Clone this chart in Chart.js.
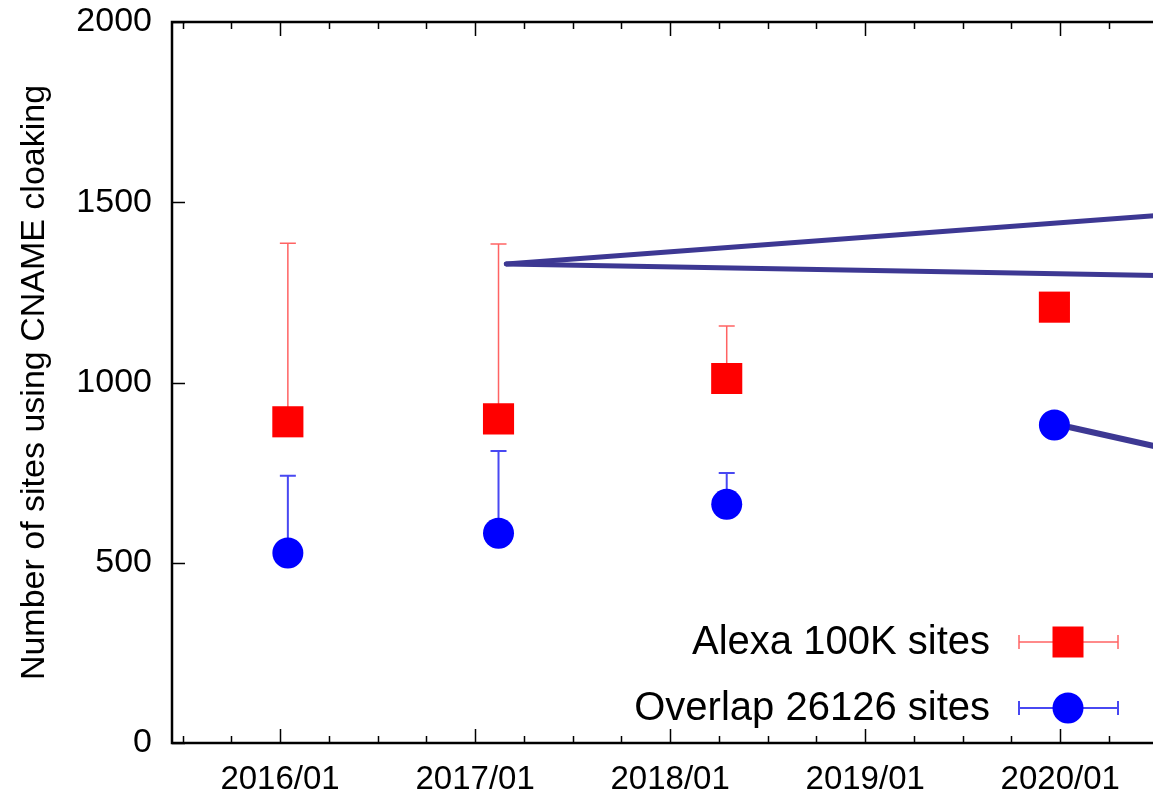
<!DOCTYPE html>
<html>
<head>
<meta charset="utf-8">
<script src="https://cdn.jsdelivr.net/npm/chart.js@4.4.0/dist/chart.umd.min.js"></script>
<style>
  html, body { margin: 0; padding: 0; background: #fff; overflow: hidden; }
  #wrap { width: 1250px; height: 796px; }
</style>
</head>
<body>
<div id="wrap"><canvas id="myChart" width="1250" height="796"></canvas></div>
<script>
// measurement dates (decimal years)
const dates = [2016.04, 2017.12, 2018.29, 2019.97];
const alexaSites = [891, 899, 1011, 1209];
const alexaUpper = [1386, 1384, 1157, null];
const overlapSites = [527, 582, 662, 882];
const overlapUpper = [741, 810, 749, null];

const yearTicks = [2016, 2017, 2018, 2019, 2020];
const tickLabels = ['2016/01', '2017/01', '2018/01', '2019/01', '2020/01'];

// callout lines pointing out of the frame
const calloutUpper = [[2017.16, 1329], [2020.86, 1478]];
const calloutLower = [[2017.16, 1329], [2020.86, 1293]];
const calloutPoint = [[2020.05, 876], [2020.86, 778]];

(() => {
    const ctx = document.getElementById('myChart');
    const FONT = '"Liberation Sans", Arial, Helvetica, sans-serif';
    const lineColor = '#3d3893';

    const toPts = (xs, ys) => xs.map((x, i) => ({ x: x, y: ys[i] }));
    const callout = pts => ({
        type: 'line',
        data: pts.map(p => ({ x: p[0], y: p[1] })),
        borderColor: lineColor,
        borderWidth: 5,
        borderCapStyle: 'round',
        pointRadius: 0,
        showLine: true,
        order: 3,
        inLegend: false
    });

    // error bars, drawn under the markers
    const errorBars = {
        id: 'errorBars',
        beforeDatasetsDraw(chart) {
            const c = chart.ctx;
            const xs = chart.scales.x, ys = chart.scales.y;
            c.save();
            chart.data.datasets.forEach(ds => {
                if (!ds.upper) return;
                c.strokeStyle = ds.errorColor;
                c.lineWidth = ds.errorWidth;
                ds.data.forEach((p, i) => {
                    const up = ds.upper[i];
                    if (up == null) return;
                    const px = xs.getPixelForValue(p.x);
                    const py = ys.getPixelForValue(p.y);
                    const pu = ys.getPixelForValue(up);
                    c.beginPath();
                    c.moveTo(px, py);
                    c.lineTo(px, pu);
                    c.moveTo(px - 8, pu);
                    c.lineTo(px + 8, pu);
                    c.stroke();
                });
            });
            c.restore();
        }
    };

    // frame with inward ticks, gnuplot style
    const frame = {
        id: 'frame',
        afterDraw(chart) {
            const c = chart.ctx;
            const a = chart.chartArea;
            const xs = chart.scales.x, ys = chart.scales.y;
            c.save();
            c.strokeStyle = '#000';
            c.lineWidth = 1.5;
            xs.ticks.forEach(t => {
                const px = Math.round(xs.getPixelForValue(t.value)) + 0.5;
                const len = Number.isInteger(t.value) ? 14 : 7;
                c.beginPath();
                c.moveTo(px, a.bottom);
                c.lineTo(px, a.bottom - len);
                c.moveTo(px, a.top);
                c.lineTo(px, a.top + len);
                c.stroke();
            });
            ys.ticks.forEach(t => {
                const py = Math.round(ys.getPixelForValue(t.value)) + 0.5;
                c.beginPath();
                c.moveTo(a.left, py);
                c.lineTo(a.left + 13, py);
                c.moveTo(a.right, py);
                c.lineTo(a.right - 13, py);
                c.stroke();
            });
            c.lineWidth = 2.5;
            c.strokeRect(a.left, a.top, a.right - a.left, a.bottom - a.top);
            c.restore();
        }
    };

    // key in the lower right, text left of the sample
    const key = {
        id: 'key',
        afterDraw(chart) {
            const c = chart.ctx;
            const rows = [642, 708];
            c.save();
            c.font = '40px ' + FONT;
            c.textAlign = 'right';
            c.textBaseline = 'middle';
            chart.data.datasets.filter(ds => ds.inLegend).forEach((ds, i) => {
                const y = rows[i];
                c.fillStyle = '#000';
                c.fillText(ds.label, 990, y + 1);
                c.strokeStyle = ds.errorColor;
                c.lineWidth = ds.errorWidth;
                c.beginPath();
                c.moveTo(1019, y); c.lineTo(1118, y);
                c.moveTo(1019, y - 7); c.lineTo(1019, y + 7);
                c.moveTo(1118, y - 7); c.lineTo(1118, y + 7);
                c.stroke();
                c.fillStyle = ds.backgroundColor;
                c.beginPath();
                if (ds.pointStyle === 'rect') {
                    c.rect(1068 - 15.5, y - 15.5, 31, 31);
                } else {
                    c.arc(1068, y, 15.5, 0, Math.PI * 2);
                }
                c.fill();
            });
            c.restore();
        }
    };

    const data = {
        datasets: [
            {
                label: 'Alexa 100K sites',
                data: toPts(dates, alexaSites),
                upper: alexaUpper,
                errorColor: 'rgba(255, 60, 60, 0.8)',
                errorWidth: 1.5,
                backgroundColor: '#ff0000',
                borderColor: '#ff0000',
                pointStyle: 'rect',
                pointRadius: 22,
                borderWidth: 0,
                showLine: false,
                order: 1,
                inLegend: true
            },
            {
                label: 'Overlap 26126 sites',
                data: toPts(dates, overlapSites),
                upper: overlapUpper,
                errorColor: 'rgba(40, 40, 240, 0.85)',
                errorWidth: 2,
                backgroundColor: '#0000ff',
                borderColor: '#0000ff',
                pointStyle: 'circle',
                pointRadius: 15.5,
                borderWidth: 0,
                showLine: false,
                order: 1,
                inLegend: true
            },
            callout(calloutUpper),
            callout(calloutLower),
            Object.assign(callout(calloutPoint), { borderWidth: 6 })
        ]
    };

    const config = {
        type: 'scatter',
        data: data,
        options: {
            responsive: false,
            animation: false,
            layout: { padding: { left: 14, top: 22, right: 10, bottom: 0 } },
            plugins: {
                legend: { display: false },
                tooltip: { enabled: false }
            },
            scales: {
                x: {
                    type: 'linear',
                    min: 2015.446,
                    max: 2020.86,
                    grid: { display: false, drawTicks: false },
                    border: { display: false },
                    afterBuildTicks(scale) {
                        const t = [];
                        for (let q = 0; q < 22; q++) t.push({ value: 2015.5 + q * 0.25 });
                        scale.ticks = t;
                    },
                    afterFit(scale) { scale.height = 53; },
                    ticks: {
                        autoSkip: false,
                        maxRotation: 0,
                        padding: 17,
                        color: '#000',
                        font: { family: FONT, size: 33 },
                        callback: v => {
                            const i = yearTicks.indexOf(Math.round(v * 100) / 100);
                            return i >= 0 ? tickLabels[i] : '';
                        }
                    }
                },
                y: {
                    min: 0,
                    max: 2000,
                    grid: { display: false, drawTicks: false },
                    border: { display: false },
                    afterFit(scale) {
                        scale.width = 158;
                        scale.paddingTop = 0;
                        scale.paddingBottom = 0;
                    },
                    ticks: {
                        stepSize: 500,
                        padding: 20,
                        color: '#000',
                        font: { family: FONT, size: 34 },
                        callback: v => String(v)
                    },
                    title: {
                        display: true,
                        text: 'Number of sites using CNAME cloaking',
                        color: '#000',
                        font: { family: FONT, size: 34 },
                        padding: { top: 0, bottom: 0 }
                    }
                }
            }
        },
        plugins: [errorBars, frame, key]
    };
    new Chart(ctx, config);
})();
</script>
</body>
</html>
